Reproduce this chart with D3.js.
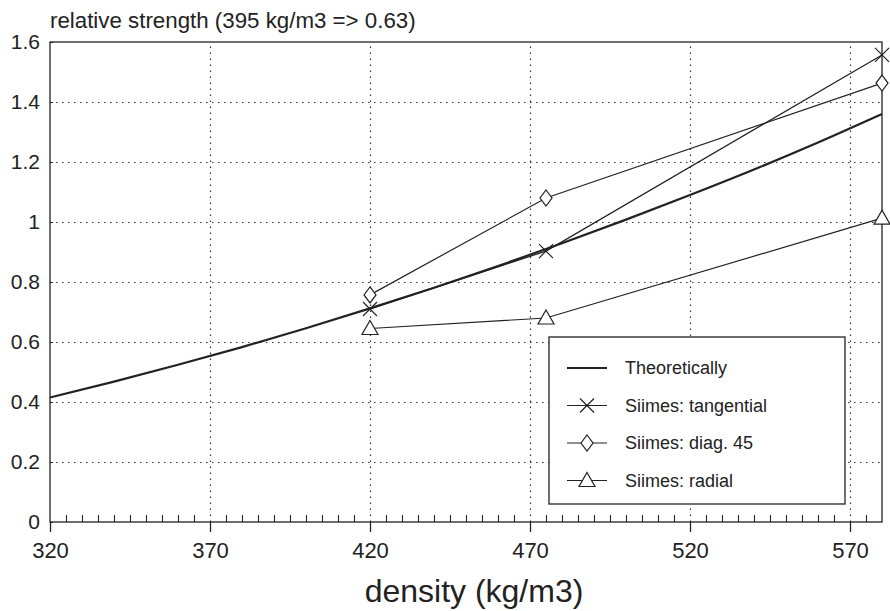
<!DOCTYPE html>
<html>
<head>
<meta charset="utf-8">
<script src="https://cdn.jsdelivr.net/npm/d3@7/dist/d3.min.js"></script>
<style>
    body { margin: 0; background: #fff; }
    svg { font-family: "Liberation Sans", Arial, sans-serif; }
    .grid line { stroke: #333; stroke-dasharray: 1.5, 4.5; stroke-width: 1.2; }
    .grid path { display: none; }
</style>
</head>
<body>
<div class="chart"></div>
<script>
    // values
    let theoryDensity = [320, 340, 360, 380, 400, 420, 440, 460, 480, 500, 520, 540, 560, 580];
    let theoryStrength = [0.415, 0.468, 0.524, 0.583, 0.646, 0.712, 0.781, 0.853, 0.929, 1.008, 1.09, 1.175, 1.265, 1.36];

    let sampleDensity = [420, 475, 580];
    let tangential = [0.71, 0.903, 1.557];
    let diag45 = [0.757, 1.08, 1.463];
    let radial = [0.645, 0.68, 1.013];

    let xTicks = [320, 370, 420, 470, 520, 570];
    let yTicks = [0, 0.2, 0.4, 0.6, 0.8, 1, 1.2, 1.4, 1.6];
    let legendNames = ["Theoretically", "Siimes: tangential", "Siimes: diag. 45", "Siimes: radial"];
    let legendMarkers = ["none", "cross", "diamond", "triangle"];

    let svg = d3.select(".chart").append("svg")
        .attr("width", 890)
        .attr("height", 611);

    let margin = {top: 42, right: 8, bottom: 89, left: 50},
        width = 890 - margin.left - margin.right,
        height = 611 - margin.top - margin.bottom,
        g = svg.append("g").attr("transform", "translate(" + margin.left + "," + margin.top + ")");

    let x = d3.scaleLinear().domain([320, 580]).range([0, width]);
    let y = d3.scaleLinear().domain([0, 1.6]).range([height, 0]);

    // dotted grid
    g.append("g")
        .attr("class", "grid")
        .attr("transform", "translate(0," + height + ")")
        .call(d3.axisBottom(x).tickValues(xTicks.slice(1)).tickSize(-height).tickFormat(""));
    g.append("g")
        .attr("class", "grid")
        .call(d3.axisLeft(y).tickValues(yTicks.slice(1, -1)).tickSize(-width).tickFormat(""));

    // frame
    g.append("rect")
        .attr("width", width)
        .attr("height", height)
        .attr("fill", "none")
        .attr("stroke", "#222")
        .attr("stroke-width", 1.3);

    // x axis: major ticks below, minor ticks inside
    let xAxis = g.append("g")
        .attr("transform", "translate(0," + height + ")")
        .call(d3.axisBottom(x).tickValues(xTicks).tickSize(10).tickPadding(10).tickFormat(d3.format("d")));
    xAxis.select(".domain").remove();
    xAxis.selectAll("line").attr("stroke", "#222").attr("stroke-width", 1.3);
    xAxis.selectAll("text").attr("font-size", "22px").attr("fill", "#222");

    let minorTicks = d3.range(325, 580, 5).filter(v => v % 50 !== 20);
    let xMinor = g.append("g")
        .attr("transform", "translate(0," + height + ")")
        .call(d3.axisBottom(x).tickValues(minorTicks).tickSize(-7).tickFormat(""));
    xMinor.select(".domain").remove();
    xMinor.selectAll("line").attr("stroke", "#222").attr("stroke-width", 1.1);

    // y axis labels
    let yAxis = g.append("g")
        .call(d3.axisLeft(y).tickValues(yTicks).tickSize(-3).tickPadding(10).tickFormat(d3.format("")));
    yAxis.select(".domain").remove();
    yAxis.selectAll("line").attr("stroke", "#222");
    yAxis.selectAll("text").attr("font-size", "21px").attr("fill", "#222");

    // titles
    svg.append("text")
        .attr("x", 50)
        .attr("y", 28)
        .attr("font-size", "22.3px")
        .attr("fill", "#222")
        .text("relative strength (395 kg/m3 => 0.63)");

    svg.append("text")
        .attr("x", 474)
        .attr("y", 602)
        .attr("text-anchor", "middle")
        .attr("font-size", "32px")
        .attr("fill", "#222")
        .text("density (kg/m3)");

    // lines
    let line = d3.line()
        .x(d => x(d[0]))
        .y(d => y(d[1]));

    let theory = theoryDensity.map((d, i) => [d, theoryStrength[i]]);
    g.append("path")
        .datum(theory)
        .attr("fill", "none")
        .attr("stroke", "#222")
        .attr("stroke-width", 2.2)
        .attr("d", line.curve(d3.curveMonotoneX));
    line.curve(d3.curveLinear);

    let series = [
        {name: "cross", values: tangential},
        {name: "diamond", values: diag45},
        {name: "triangle", values: radial}
    ];

    function drawMarker(sel, kind, cx, cy) {
        let p;
        if (kind === "cross") {
            p = "M" + (cx - 7) + "," + (cy - 7) + "L" + (cx + 7) + "," + (cy + 7)
                + "M" + (cx + 7) + "," + (cy - 7) + "L" + (cx - 7) + "," + (cy + 7);
        } else if (kind === "diamond") {
            p = "M" + cx + "," + (cy - 8) + "L" + (cx + 6) + "," + cy + "L" + cx + "," + (cy + 8)
                + "L" + (cx - 6) + "," + cy + "Z";
        } else if (kind === "triangle") {
            p = "M" + cx + "," + (cy - 8) + "L" + (cx + 8) + "," + (cy + 6) + "L" + (cx - 8) + "," + (cy + 6) + "Z";
        } else {
            return;
        }
        sel.append("path")
            .attr("d", p)
            .attr("fill", kind === "cross" ? "none" : "#fff")
            .attr("stroke", "#222")
            .attr("stroke-width", 1.2);
    }

    series.forEach(function (s) {
        let pts = sampleDensity.map((d, i) => [d, s.values[i]]);
        g.append("path")
            .datum(pts)
            .attr("fill", "none")
            .attr("stroke", "#222")
            .attr("stroke-width", 1.2)
            .attr("d", line);
        pts.forEach(function (p) {
            drawMarker(g, s.name, x(p[0]), y(p[1]));
        });
    });

    // legend
    let legend = svg.append("g").attr("transform", "translate(549,337)");
    legend.append("rect")
        .attr("width", 296)
        .attr("height", 167)
        .attr("fill", "#fff")
        .attr("stroke", "#222")
        .attr("stroke-width", 1.3);

    legendNames.forEach(function (name, i) {
        let ly = 31 + i * 37.5;
        legend.append("line")
            .attr("x1", 18).attr("x2", 58)
            .attr("y1", ly).attr("y2", ly)
            .attr("stroke", "#222")
            .attr("stroke-width", i === 0 ? 2.2 : 1.2);
        drawMarker(legend, legendMarkers[i], 38, ly);
        legend.append("text")
            .attr("x", 76)
            .attr("y", ly + 6)
            .attr("font-size", "18px")
            .attr("fill", "#222")
            .text(name);
    });
</script>
</body>
</html>
